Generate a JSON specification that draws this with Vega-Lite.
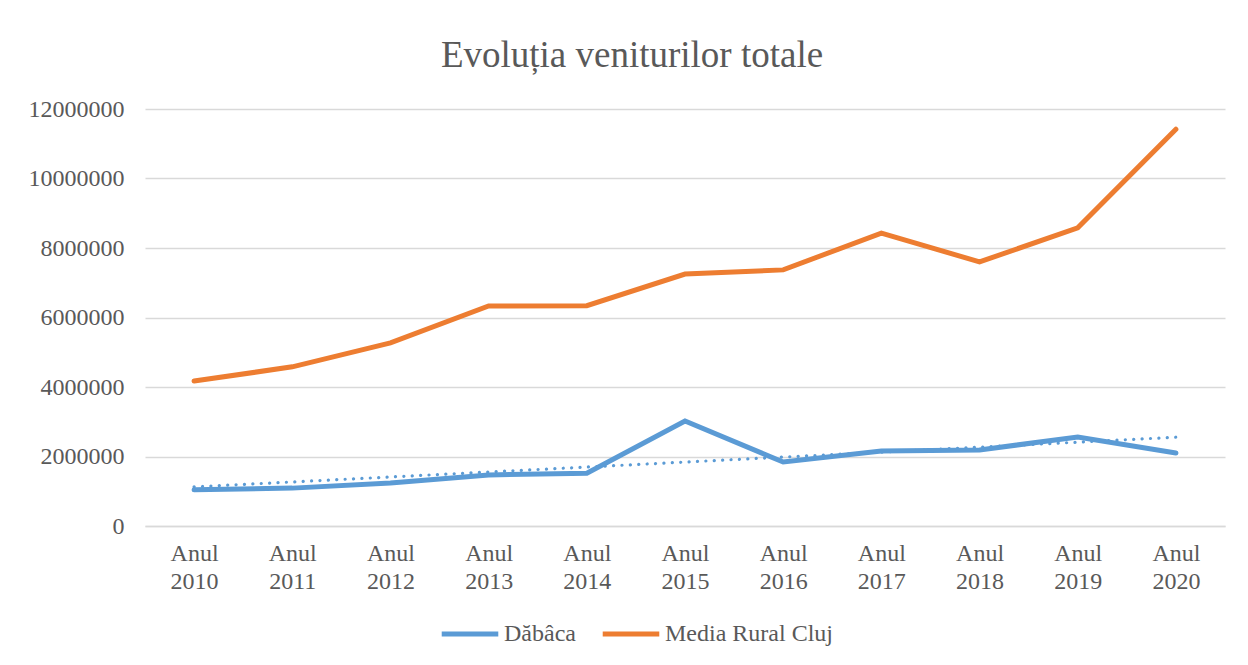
{
  "$schema": "https://vega.github.io/schema/vega-lite/v6.json",
  "width": 1080,
  "height": 417,
  "autosize": {"type": "none"},
  "padding": {"left": 145, "top": 109, "right": 23, "bottom": 139},
  "background": "white",
  "config": {
    "font": "Liberation Serif",
    "view": {"stroke": null}
  },
  "title": {
    "text": "Evoluția veniturilor totale",
    "font": "Liberation Serif",
    "fontSize": 37,
    "fontWeight": "normal",
    "color": "#595959",
    "anchor": "middle",
    "dx": -53,
    "offset": 22
  },
  "data": {
    "values": [
      {"an": "Anul 2010", "serie": "Dăbâca", "valoare": 1040000, "trend": 1125000},
      {"an": "Anul 2011", "serie": "Dăbâca", "valoare": 1090000, "trend": 1268000},
      {"an": "Anul 2012", "serie": "Dăbâca", "valoare": 1240000, "trend": 1411000},
      {"an": "Anul 2013", "serie": "Dăbâca", "valoare": 1470000, "trend": 1554000},
      {"an": "Anul 2014", "serie": "Dăbâca", "valoare": 1520000, "trend": 1697000},
      {"an": "Anul 2015", "serie": "Dăbâca", "valoare": 3020000, "trend": 1840000},
      {"an": "Anul 2016", "serie": "Dăbâca", "valoare": 1840000, "trend": 1983000},
      {"an": "Anul 2017", "serie": "Dăbâca", "valoare": 2160000, "trend": 2126000},
      {"an": "Anul 2018", "serie": "Dăbâca", "valoare": 2190000, "trend": 2269000},
      {"an": "Anul 2019", "serie": "Dăbâca", "valoare": 2560000, "trend": 2412000},
      {"an": "Anul 2020", "serie": "Dăbâca", "valoare": 2100000, "trend": 2555000},
      {"an": "Anul 2010", "serie": "Media Rural Cluj", "valoare": 4170000},
      {"an": "Anul 2011", "serie": "Media Rural Cluj", "valoare": 4580000},
      {"an": "Anul 2012", "serie": "Media Rural Cluj", "valoare": 5270000},
      {"an": "Anul 2013", "serie": "Media Rural Cluj", "valoare": 6330000},
      {"an": "Anul 2014", "serie": "Media Rural Cluj", "valoare": 6340000},
      {"an": "Anul 2015", "serie": "Media Rural Cluj", "valoare": 7250000},
      {"an": "Anul 2016", "serie": "Media Rural Cluj", "valoare": 7370000},
      {"an": "Anul 2017", "serie": "Media Rural Cluj", "valoare": 8430000},
      {"an": "Anul 2018", "serie": "Media Rural Cluj", "valoare": 7600000},
      {"an": "Anul 2019", "serie": "Media Rural Cluj", "valoare": 8580000},
      {"an": "Anul 2020", "serie": "Media Rural Cluj", "valoare": 11420000}
    ]
  },
  "encoding": {
    "x": {
      "field": "an",
      "type": "ordinal",
      "scale": {"type": "point", "padding": 0.5},
      "axis": {
        "title": null,
        "labelAngle": 0,
        "labelExpr": "split(datum.label, ' ')",
        "labelFont": "Liberation Serif",
        "labelFontSize": 24,
        "labelColor": "#595959",
        "labelLineHeight": 28,
        "labelPadding": 15,
        "ticks": false,
        "domain": true,
        "domainColor": "#D9D9D9",
        "domainWidth": 1.5,
        "grid": false
      }
    },
    "y": {
      "type": "quantitative",
      "scale": {"domain": [0, 12000000], "nice": false},
      "axis": {
        "title": null,
        "values": [0, 2000000, 4000000, 6000000, 8000000, 10000000, 12000000],
        "format": "d",
        "labelFont": "Liberation Serif",
        "labelFontSize": 24,
        "labelColor": "#595959",
        "labelPadding": 21,
        "ticks": false,
        "domain": false,
        "grid": true,
        "gridColor": "#D9D9D9",
        "gridWidth": 1.5
      }
    }
  },
  "layer": [
    {
      "transform": [{"filter": "datum.serie === 'Dăbâca'"}],
      "mark": {"type": "line", "color": "#5B9BD5", "strokeWidth": 3.2, "strokeCap": "round", "strokeDash": [0.1, 8.3]},
      "encoding": {
        "y": {"field": "trend", "type": "quantitative"}
      }
    },
    {
      "mark": {"type": "line", "strokeWidth": 5, "strokeCap": "round", "strokeJoin": "miter"},
      "encoding": {
        "y": {"field": "valoare", "type": "quantitative"},
        "color": {
          "field": "serie",
          "type": "nominal",
          "scale": {"domain": ["Dăbâca", "Media Rural Cluj"], "range": ["#5B9BD5", "#ED7D31"]},
          "legend": {
            "title": null,
            "orient": "none",
            "legendX": 294,
            "legendY": 494,
            "direction": "horizontal",
            "symbolType": "stroke",
            "symbolSize": 3200,
            "symbolStrokeWidth": 5,
            "labelFont": "Liberation Serif",
            "labelFontSize": 24,
            "labelColor": "#595959",
            "labelOffset": 3,
            "labelLimit": 400,
            "columnPadding": 16
          }
        }
      }
    }
  ]
}
